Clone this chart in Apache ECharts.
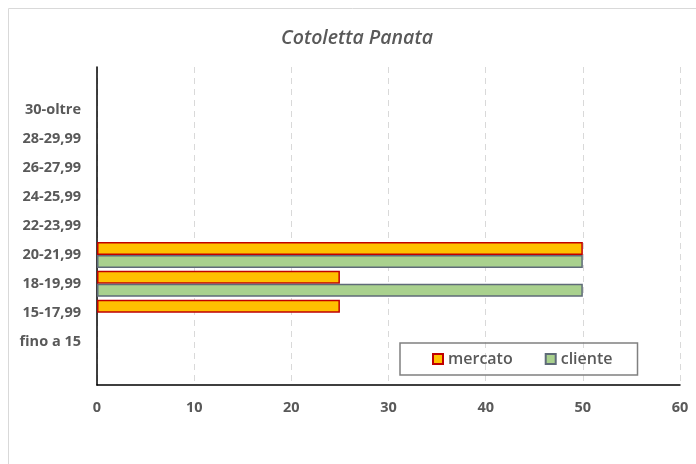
<!DOCTYPE html>
<html>
<head>
<meta charset="utf-8">
<title>Cotoletta Panata</title>
<script src="https://cdn.jsdelivr.net/npm/echarts@6/dist/echarts.min.js"></script>
<style>
  html, body { margin: 0; padding: 0; background: #fff; }
  #chart { width: 696px; height: 464px; }
</style>
</head>
<body>
<div id="chart"></div>
<script>
// fasce di prezzo, dal basso verso l'alto (vuote agli estremi come nel grafico excel)
var fasce = ['', 'fino a 15', '15-17,99', '18-19,99', '20-21,99', '22-23,99', '24-25,99', '26-27,99', '28-29,99', '30-oltre', ''];
var mercato = [null, null, 25, 25, 50, null, null, null, null, null, null];
var cliente = [null, null, null, 50, 50, null, null, null, null, null, null];
var xTicks = [0, 10, 20, 30, 40, 50, 60];

var chart = echarts.init(document.getElementById('chart'));
var grigio = '#595959';

var option = {
  animation: false,
  graphic: [{
    type: 'rect',
    shape: { x: 8.5, y: 8.5, width: 720, height: 480 },
    style: { fill: 'none', stroke: '#d9d9d9', lineWidth: 1 },
    silent: true
  }],
  title: {
    text: 'Cotoletta Panata',
    left: 352,
    textAlign: 'center',
    top: 23,
    textStyle: { fontFamily: 'Open Sans', fontStyle: 'italic', fontWeight: 600, fontSize: 19.5, color: grigio }
  },
  legend: {
    data: ['mercato', 'cliente'],
    left: 400,
    top: 343,
    itemWidth: 10,
    itemHeight: 10,
    itemGap: 32,
    padding: [8, 25, 8, 32],
    borderColor: '#808080',
    borderWidth: 1.5,
    icon: 'rect',
    textStyle: { fontFamily: 'Open Sans', fontWeight: 600, fontSize: 16, color: grigio }
  },
  grid: { left: 97, right: 16, top: 67, bottom: 79 },
  xAxis: {
    type: 'value',
    min: xTicks[0],
    max: xTicks[xTicks.length - 1],
    interval: 10,
    axisLine: { show: true, lineStyle: { color: '#000', width: 1.5 } },
    axisTick: { show: false },
    splitLine: { lineStyle: { color: '#d9d9d9', type: [6, 5], width: 1 } },
    axisLabel: { margin: 15, fontFamily: 'Open Sans', fontWeight: 'bold', fontSize: 14.5, color: grigio }
  },
  yAxis: {
    type: 'category',
    data: fasce,
    axisLine: { lineStyle: { color: '#000', width: 1.5 } },
    axisTick: { show: false },
    axisLabel: { margin: 16, fontFamily: 'Open Sans', fontWeight: 'bold', fontSize: 14.5, color: grigio }
  },
  series: [
    {
      name: 'mercato',
      type: 'bar',
      data: mercato,
      barWidth: 13,
      barGap: '0%',
      itemStyle: { color: '#ffc000', borderColor: '#c00000', borderWidth: 1.5 }
    },
    {
      name: 'cliente',
      type: 'bar',
      data: cliente,
      barWidth: 13,
      barGap: '0%',
      itemStyle: { color: '#a9d18e', borderColor: '#5f6b78', borderWidth: 1.5 }
    }
  ]
};
chart.setOption(option);
</script>
</body>
</html>
